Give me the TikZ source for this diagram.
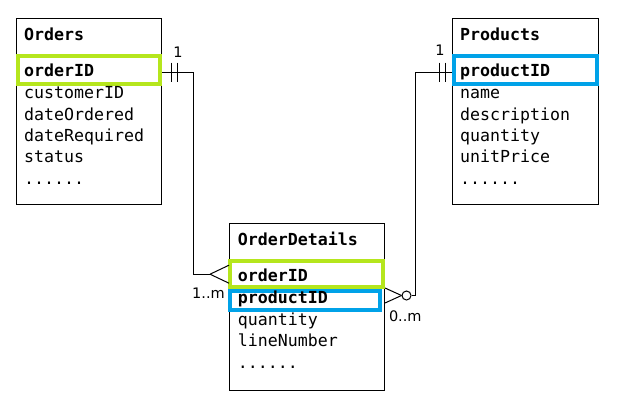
\documentclass[tikz,border=0pt]{standalone}
\usepackage{fontspec}
\newfontfamily\erfont{DejaVu Sans Mono}
\newfontfamily\lblfont{DejaVu Sans}
\definecolor{keygreen}{RGB}{181,230,29}
\definecolor{keyblue}{RGB}{0,162,232}
\begin{document}
\begin{tikzpicture}[x=1pt,y=-1pt,
  tbl/.style={draw=black, line width=1pt, inner sep=0pt, anchor=north west},
  fld/.style={anchor=base west, inner sep=0pt, font=\erfont\fontsize{16.6}{20}\selectfont},
  keyfld/.style={anchor=base west, inner sep=0pt, font=\erfont\bfseries\fontsize{16.6}{20}\selectfont},
  gkey/.style={draw=keygreen, line width=4pt, inner sep=0pt},
  bkey/.style={draw=keyblue, line width=4pt, inner sep=0pt},
  conn/.style={draw=black, line width=1pt},
  ring/.style={circle, draw=black, line width=1pt, fill=white, minimum size=9pt, inner sep=0pt},
  card/.style={font=\lblfont\fontsize{14.5}{17}\selectfont, inner sep=0pt}]
\useasboundingbox (0,0) rectangle (624,410);
\fill[white] (0,0) rectangle (624,410);

% tables
\node[tbl, minimum width=145pt, minimum height=186pt] (orders) at (16,18) {};
\node[tbl, minimum width=146pt, minimum height=186pt] (products) at (452,18) {};
\node[tbl, minimum width=155pt, minimum height=167pt] (details) at (229,223) {};

% key highlights
\node[gkey, minimum width=142pt, minimum height=28.5pt] (oKey) at (88.7,70.2) {};
\node[bkey, minimum width=143.6pt, minimum height=28.5pt] (pKey) at (525.5,70.2) {};
\node[gkey, minimum width=152.7pt, minimum height=25.7pt] (dOKey) at (306.7,274.2) {};
\node[bkey, minimum width=149.4pt, minimum height=19.3pt] (dPKey) at (305,300.7) {};

% Orders fields
\node[keyfld] (oT) at (24,40.5) {Orders};
\node[keyfld] (o1) at (24,76.7) {orderID};
\node[fld] (o2) at (24,98.3) {customerID};
\node[fld] (o3) at (24,120) {dateOrdered};
\node[fld] (o4) at (24,141.3) {dateRequired};
\node[fld] (o5) at (24,162.5) {status};
\node[fld] (o6) at (24,184) {......};

% Products fields
\node[keyfld] (pT) at (460,40.5) {Products};
\node[keyfld] (p1) at (460,76.7) {productID};
\node[fld] (p2) at (460,98.3) {name};
\node[fld] (p3) at (460,120) {description};
\node[fld] (p4) at (460,141.3) {quantity};
\node[fld] (p5) at (460,162.5) {unitPrice};
\node[fld] (p6) at (460,184) {......};

% OrderDetails fields
\node[keyfld] (dT) at (237.7,245) {OrderDetails};
\node[keyfld] (d1) at (237.7,281.7) {orderID};
\node[keyfld] (d2) at (237.7,303.3) {productID};
\node[fld] (d3) at (237.7,325) {quantity};
\node[fld] (d4) at (237.7,346.5) {lineNumber};
\node[fld] (d5) at (237.7,368) {......};

% connector Orders -- OrderDetails
\coordinate (j1) at (193,72);
\coordinate (f1) at (210,274.2);
\draw[conn] (orders.east |- j1) -- (j1) |- (f1);
\draw[conn] (f1) -- ([yshift=9pt]details.west |- f1);
\draw[conn] (f1) -- ([yshift=-9pt]details.west |- f1);
\draw[conn] ([xshift=9pt,yshift=9.5pt]orders.east |- j1) -- ([xshift=9pt,yshift=-9.5pt]orders.east |- j1);
\draw[conn] ([xshift=15pt,yshift=9.5pt]orders.east |- j1) -- ([xshift=15pt,yshift=-9.5pt]orders.east |- j1);

% connector Products -- OrderDetails
\coordinate (j2) at (415,295.5);
\node[ring] (c0) at (406.5,295.5) {};
\draw[conn] (c0.east) -- (j2) |- (products.west |- j1);
\draw[conn] (c0.west) -- ([yshift=7.5pt]details.east |- c0);
\draw[conn] (c0.west) -- ([yshift=-7.5pt]details.east |- c0);
\draw[conn] ([xshift=-13pt,yshift=9.5pt]products.west |- j1) -- ([xshift=-13pt,yshift=-9.5pt]products.west |- j1);
\draw[conn] ([xshift=-7pt,yshift=9.5pt]products.west |- j1) -- ([xshift=-7pt,yshift=-9.5pt]products.west |- j1);

% cardinalities
\node[card] (l1) at (178,52) {1};
\node[card] (l2) at (440,50.5) {1};
\node[card] (l3) at (208.5,293.5) {1..m};
\node[card] (l4) at (405.3,316) {0..m};
\end{tikzpicture}
\end{document}
